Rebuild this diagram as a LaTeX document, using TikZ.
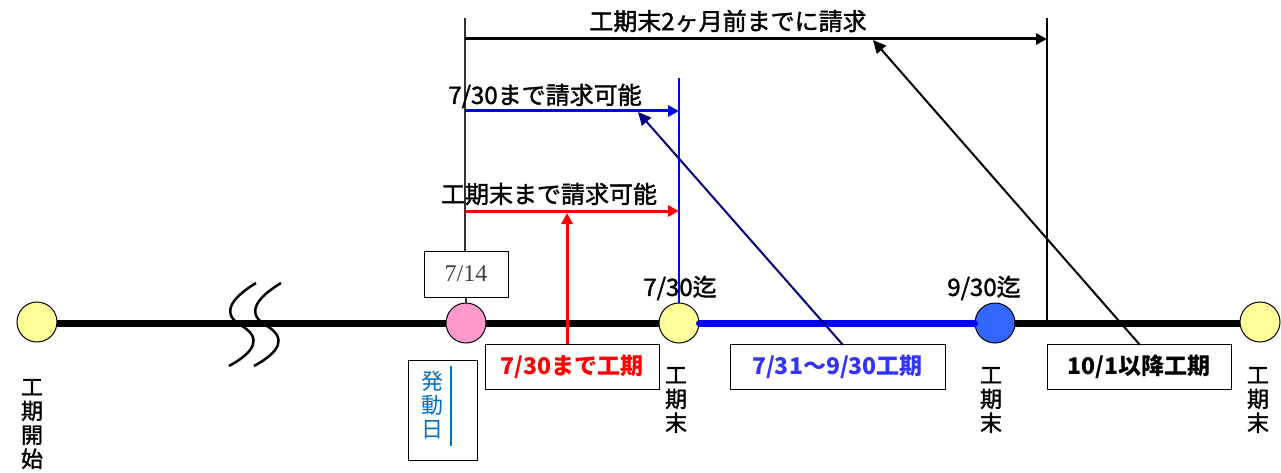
\documentclass[tikz,border=0pt]{standalone}
\usepackage{fontspec}
\newfontfamily\jp{Noto Sans CJK JP}
\newfontfamily\jpm[FakeBold=1.6]{Noto Sans CJK JP}
\setmainfont{Liberation Serif}
\usetikzlibrary{arrows.meta}
\definecolor{cyel}{HTML}{FFFF99}
\definecolor{cpink}{HTML}{FF99CC}
\definecolor{cblu}{HTML}{3366FF}
\definecolor{hblue}{HTML}{0070C0}
\definecolor{navy}{HTML}{000080}
\definecolor{tblue}{HTML}{3333FF}
\begin{document}
\begin{tikzpicture}[x=1pt,y=-1pt,
  dot/.style={circle,draw=black,line width=1pt,minimum size=40pt,inner sep=0pt},
  lbl/.style={font=\jpm\fontsize{24}{26}\selectfont,inner sep=0pt},
  vlbl/.style={font=\jpm\fontsize{22}{24}\selectfont,align=center,inner sep=0pt},
  bx/.style={draw=black,line width=1pt,inner sep=0pt,font=\jp\bfseries\fontsize{23}{25}\selectfont},
  arr/.style={-{Triangle[length=11pt,width=11pt]}},
  parr/.style={-{Triangle[length=13pt,width=12pt]}}
]
\useasboundingbox (0,0) rectangle (1281,473);
% main line
\coordinate (L0) at (37,323);
\coordinate (L1) at (1260,323);
\draw[line width=7pt] (L0) -- (L1);
% break squiggles
\draw[line width=2.5pt] (256,283) .. controls (228,300) and (222,315) .. (242,326) .. controls (262,338) and (255,352) .. (229,366);
\draw[line width=2.5pt] (281,283) .. controls (253,300) and (247,315) .. (267,326) .. controls (287,338) and (280,352) .. (254,366);
% vertical lines
\node[draw=black,line width=1pt,minimum width=84pt,minimum height=46pt,inner sep=0pt,font=\fontsize{24}{26}\selectfont,text=black!75] (b714) at (466,274) {7/14};
\coordinate (t0) at (465,18);
\coordinate (t1) at (1047,18);
\coordinate (t1b) at (1047,323);
\draw[line width=1.2pt,black!80] (t0) -- (b714.north -| t0);
\draw[line width=2pt] (t1) -- (t1b);
% blue segment
\node[dot,fill=cyel] (c2) at (679,323) {};
\node[dot,fill=cblu] (c3) at (995,323) {};
\draw[line width=7pt,blue,line cap=round] (c2.east) -- (c3.west);
\node[dot,fill=cyel] (c0) at (37,322) {};
\node[dot,fill=cpink] (c1) at (466,323) {};
\draw[line width=1.2pt,black!80] (b714.south) -- (c1.north);
\node[dot,fill=cyel] (c4) at (1260,322) {};
% blue vertical
\coordinate (bv) at (679,78);
\draw[line width=2.5pt,blue] (bv) -- (c2.north);
% horizontal arrows
\coordinate (a0) at (465,39);
\coordinate (a1) at (1047,39);
\draw[arr,line width=3pt] (a0) -- (a1);
\coordinate (r0) at (465,211);
\coordinate (r1) at (679,211);
\draw[arr,line width=3pt,red] (r0) -- (r1);
\coordinate (u0) at (465,111);
\coordinate (u1) at (679,111);
\draw[arr,line width=3pt,blue] (u0) -- (u1);
% labels
\node[lbl] (l1) at (728,21) {工期末2ヶ月前までに請求};
\node[lbl] (l2) at (545,96) {7/30まで請求可能};
\node[lbl] (l3) at (549,194) {工期末まで請求可能};
\node[lbl] (l4) at (680,288) {7/30迄};
\node[lbl] (l5) at (984,288) {9/30迄};
% boxes
\node[bx,minimum width=174pt,minimum height=45pt,text=red] (bR) at (572,367) {7/30まで工期};
\node[bx,minimum width=215pt,minimum height=45pt,text=tblue] (bB) at (837.5,367) {7/31〜9/30工期\hspace{16pt}};
\node[bx,minimum width=184pt,minimum height=45pt] (bK) at (1139,367) {10/1以降工期};
\node[draw=black,line width=1pt,minimum width=69pt,minimum height=100pt,inner sep=0pt] (bH) at (442.5,410) {};
\node[vlbl,font=\jp\fontsize{22}{24}\selectfont,text=hblue] (hd) at (432,405) {発\\動\\日};
\draw[line width=1.5pt,hblue] (451,366) -- (451,446);
% vertical labels
\node[vlbl] (v0) at (32,424) {工\\期\\開\\始};
\node[vlbl] (v1) at (676,400) {工\\期\\末};
\node[vlbl] (v2) at (991,400) {工\\期\\末};
\node[vlbl] (v3) at (1258,400) {工\\期\\末};
% pointer arrows
\coordinate (pr) at (567,213);
\draw[arr,line width=3pt,red] (bR.north -| pr) -- (pr);
\coordinate (pb0) at (843,345);
\coordinate (pb1) at (638,112);
\draw[parr,line width=2pt,navy] (pb0) -- (pb1);
\coordinate (pk0) at (1140,345);
\coordinate (pk1) at (873,40);
\draw[parr,line width=2pt] (pk0) -- (pk1);
\end{tikzpicture}
\end{document}
